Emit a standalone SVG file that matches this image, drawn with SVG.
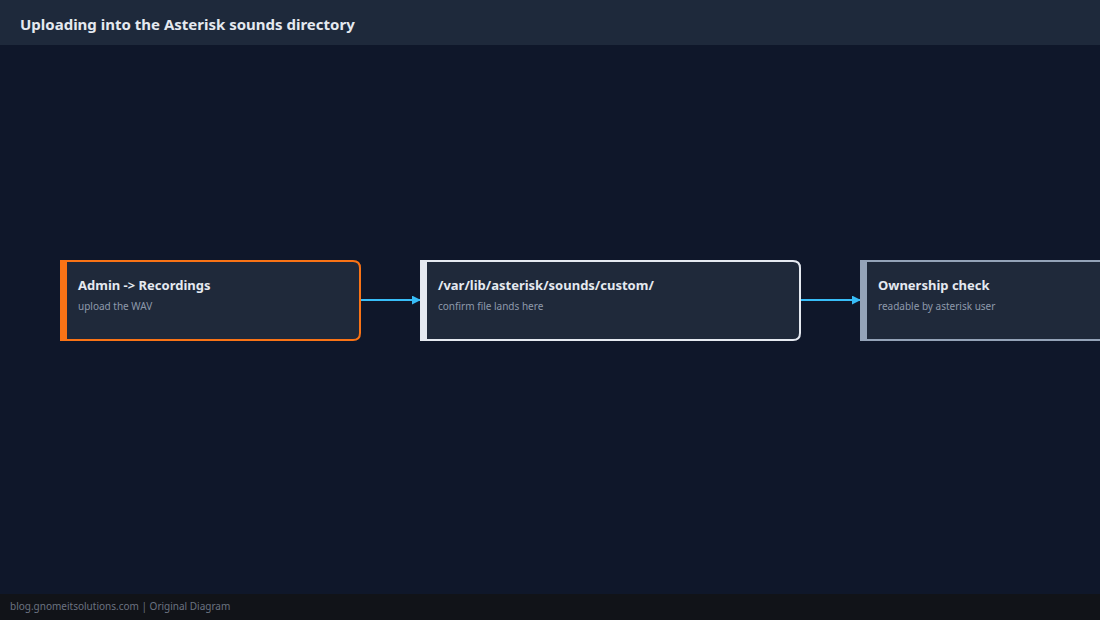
<svg xmlns="http://www.w3.org/2000/svg" width="1100" height="620" viewBox="0 0 1100 620">
<style>
.t{font-family:"Noto Sans","Open Sans",sans-serif;font-weight:700;font-size:13px;fill:#e5e9f0}
.s{font-family:"Noto Sans","Open Sans",sans-serif;font-size:10px;fill:#8e99ab}
.box{fill:#1f293a;stroke-width:2}
.c{stroke:#38bdf8;stroke-width:2;fill:none}
</style>
<defs><marker id="a" viewBox="0 0 10 10" refX="9" refY="5" markerWidth="9" markerHeight="9" markerUnits="userSpaceOnUse" orient="auto"><path d="M0,0L10,5L0,10Z" fill="#38bdf8"/></marker></defs>
<rect width="1100" height="620" fill="#0f172a"/>
<rect width="1100" height="45" fill="#1e293b"/>
<text x="20" y="30" style="font-family:'Noto Sans','Open Sans',sans-serif;font-weight:700;font-size:15px;fill:#e5e9f0">Uploading into the Asterisk sounds directory</text>
<rect y="594" width="1100" height="26" fill="#111318"/>
<text x="10" y="610" style="font-family:'Noto Sans','Open Sans',sans-serif;font-size:10px;fill:#6b7280">blog.gnomeitsolutions.com | Original Diagram</text>
<g id="connectors">
<line class="c" x1="360" y1="300" x2="420" y2="300" marker-end="url(#a)"/>
<line class="c" x1="800" y1="300" x2="860" y2="300" marker-end="url(#a)"/>
</g>
<g id="n1">
<path class="box" stroke="#f97316" d="M61,261H353Q360,261 360,268V333Q360,340 353,340H61Z"/>
<rect x="60" y="260" width="7" height="81" fill="#f97316"/>
<text class="t" x="78" y="290">Admin -&gt; Recordings</text>
<text class="s" x="78" y="310">upload the WAV</text>
</g>
<g id="n2">
<path class="box" stroke="#e5e9f0" d="M421,261H793Q800,261 800,268V333Q800,340 793,340H421Z"/>
<rect x="420" y="260" width="7" height="81" fill="#e5e9f0"/>
<text class="t" x="438" y="290">/var/lib/asterisk/sounds/custom/</text>
<text class="s" x="438" y="310">confirm file lands here</text>
</g>
<g id="n3">
<path class="box" stroke="#94a3b8" d="M861,261H1253Q1260,261 1260,268V333Q1260,340 1253,340H861Z"/>
<rect x="860" y="260" width="7" height="81" fill="#94a3b8"/>
<text class="t" x="878" y="290">Ownership check</text>
<text class="s" x="878" y="310">readable by asterisk user</text>
</g>
</svg>
